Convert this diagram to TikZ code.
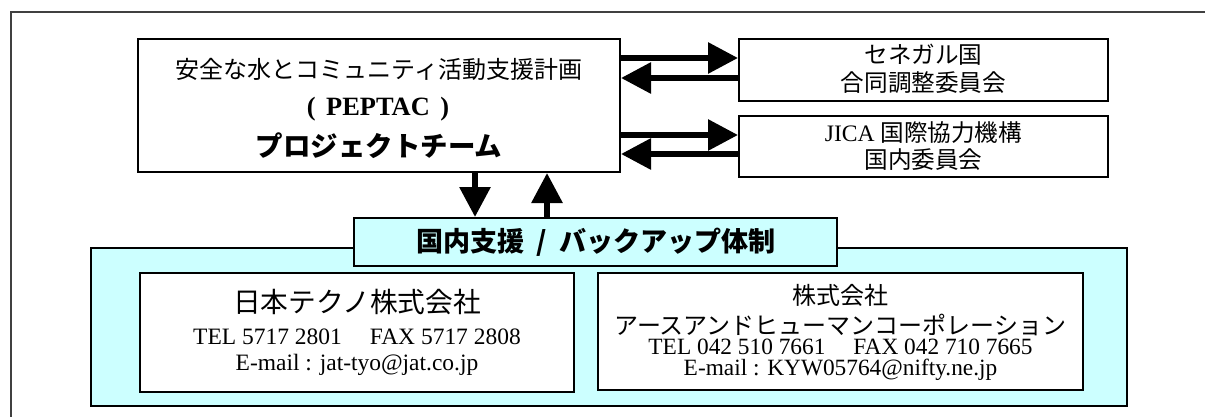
\documentclass[tikz,border=0pt]{standalone}
\usepackage{fontspec}
\setmainfont{Liberation Serif}
\newfontfamily\jpfont{Noto Sans CJK JP}
\usetikzlibrary{arrows.meta}
\definecolor{backupcyan}{HTML}{CCFFFF}

\begin{document}
\begin{tikzpicture}[x=0.75pt,y=-0.75pt]
    \tikzstyle{every node}+=[inner sep=0pt]
    \tikzstyle{box}=[draw=black, line width=1.5pt, fill=white, rectangle]
    \tikzstyle{link}=[line width=4.5pt, -{Triangle[length=22.5pt,width=22.5pt]}]
    \useasboundingbox (0,0) rectangle (1209,417);
    \draw [black!75, line width=1.5pt] (11,417) -- (11,12) -- (1205,12);
    % project team and partners
    \node [box, minimum width=361.5pt, minimum height=99.75pt] (main) at (379,105.5) {};
    \node (main-a) at (379,69) {\jpfont\fontsize{18}{20}\selectfont 安全な水とコミュニティ活動支援計画};
    \node (main-b) at (378,109) {\fontsize{19.8}{22}\selectfont\bfseries (\hspace{0.4em}PEPTAC\hspace{0.4em})};
    \node (main-c) at (379,146) {\jpfont\bfseries\fontsize{20.6}{22}\selectfont プロジェクトチーム};
    \node [box, minimum width=276.75pt, minimum height=46.5pt] (senegal) at (923.5,70) {};
    \node (senegal-a) at (923.5,55) {\jpfont\fontsize{17.7}{20}\selectfont セネガル国};
    \node (senegal-b) at (923.5,83) {\jpfont\fontsize{17.7}{20}\selectfont 合同調整委員会};
    \node [box, minimum width=276.75pt, minimum height=45.75pt] (jica) at (923.5,146.5) {};
    \node (jica-a) at (923.5,133) {\fontsize{17.7}{20}\selectfont JICA {\jpfont 国際協力機構}};
    \node (jica-b) at (923.5,160) {\jpfont\fontsize{17.7}{20}\selectfont 国内委員会};
    % support / backup
    \node [box, fill=backupcyan, minimum width=777pt, minimum height=118.5pt] (backup) at (609,327) {};
    \node [box, fill=backupcyan, minimum width=362.25pt, minimum height=36pt] (backuptitle) at (595.5,242) {};
    \node (backuptitle-a) at (596,242) {\jpfont\bfseries\fontsize{20.3}{22}\selectfont 国内支援\hspace{0.45em}/\hspace{0.45em}バックアップ体制};
    \node [box, minimum width=325.5pt, minimum height=89.25pt] (jat) at (357,332.5) {};
    \node (jat-a) at (357,302) {\jpfont\fontsize{20.8}{22}\selectfont 日本テクノ株式会社};
    \node (jat-b) at (357,337) {\fontsize{17.6}{20}\selectfont TEL 5717 2801\hspace{1.2em}FAX 5717 2808};
    \node (jat-c) at (357,365) {\fontsize{17.6}{20}\selectfont E-mail : jat-tyo@jat.co.jp};
    \node [box, minimum width=363.75pt, minimum height=87.75pt] (ehc) at (840.5,331.5) {};
    \node (ehc-a) at (840.5,295) {\jpfont\fontsize{18}{20}\selectfont 株式会社};
    \node (ehc-b) at (840.5,325) {\jpfont\fontsize{18}{20}\selectfont アースアンドヒューマンコーポレーション};
    \node (ehc-c) at (840.5,347) {\fontsize{17.5}{20}\selectfont TEL 042 510 7661\hspace{1.2em}FAX 042 710 7665};
    \node (ehc-d) at (840.5,370) {\fontsize{17.5}{20}\selectfont E-mail : KYW05764@nifty.ne.jp};
    % arrows
    \draw [link] (main.east |- 0,58) -- (senegal.west |- 0,58);
    \draw [link] (senegal.west |- 0,78) -- (main.east |- 0,78);
    \draw [link] (main.east |- 0,135) -- (jica.west |- 0,135);
    \draw [link] (jica.west |- 0,154) -- (main.east |- 0,154);
    \draw [link] (main.south -| 475,0) -- (backuptitle.north -| 475,0);
    \draw [link] (backuptitle.north -| 547,0) -- (main.south -| 547,0);
\end{tikzpicture}
\end{document}
